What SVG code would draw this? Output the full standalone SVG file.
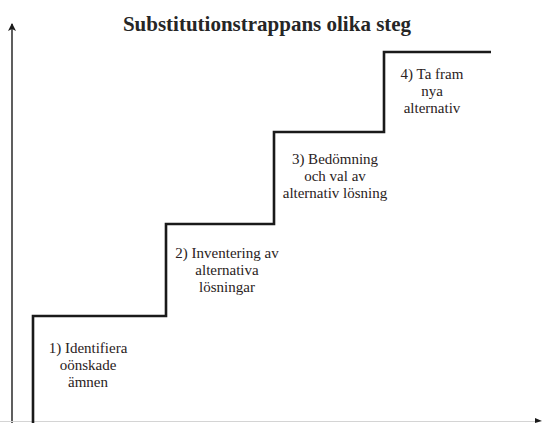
<svg xmlns="http://www.w3.org/2000/svg" width="544" height="423" viewBox="0 0 544 423">
  <style>
    .title { font-family: "Liberation Serif", "DejaVu Serif", serif; font-size: 21px; font-weight: bold; fill: #262626; text-anchor: middle; }
    .lbl { font-family: "Liberation Serif", "DejaVu Serif", serif; font-size: 15px; fill: #2a2222; text-anchor: middle; }
    .stair { fill: none; stroke: #1a1a1a; stroke-width: 2.6; stroke-linejoin: miter; }
    .axis { fill: none; stroke: #1a1a1a; stroke-width: 1.4; }
  </style>
  <defs>
    <marker id="arrow" markerWidth="8" markerHeight="8" refX="7" refY="4" orient="auto" markerUnits="userSpaceOnUse">
      <path d="M0,0 L8,4 L0,8 L2,4 Z" fill="#1a1a1a"/>
    </marker>
  </defs>
  <rect width="544" height="423" fill="#ffffff"/>

  <text class="title" x="267" y="31">Substitutionstrappans olika steg</text>

  <!-- axes -->
  <g id="axes">
    <line class="axis" x1="12" y1="423" x2="12" y2="24" marker-end="url(#arrow)"/>
    <line x1="0" y1="421.5" x2="536" y2="421.5" stroke="#d4d4d4" stroke-width="1"/>
    <path d="M535,418 L542,421 L535,423 Z" fill="#1a1a1a"/>
  </g>

  <!-- staircase -->
  <g id="connectors">
    <path class="stair" d="M33,423 V316 H166 V224 H274 V132 H384 V52 H491"/>
  </g>

  <g id="step1">
    <text class="lbl" x="88" y="353">1) Identifiera</text>
    <text class="lbl" x="88" y="370">oönskade</text>
    <text class="lbl" x="88" y="387">ämnen</text>
  </g>
  <g id="step2">
    <text class="lbl" x="227" y="258">2) Inventering av</text>
    <text class="lbl" x="227" y="275">alternativa</text>
    <text class="lbl" x="227" y="292">lösningar</text>
  </g>
  <g id="step3">
    <text class="lbl" x="335" y="164">3) Bedömning</text>
    <text class="lbl" x="335" y="181">och val av</text>
    <text class="lbl" x="335" y="198">alternativ lösning</text>
  </g>
  <g id="step4">
    <text class="lbl" x="432" y="79">4) Ta fram</text>
    <text class="lbl" x="432" y="96">nya</text>
    <text class="lbl" x="432" y="113">alternativ</text>
  </g>
</svg>
